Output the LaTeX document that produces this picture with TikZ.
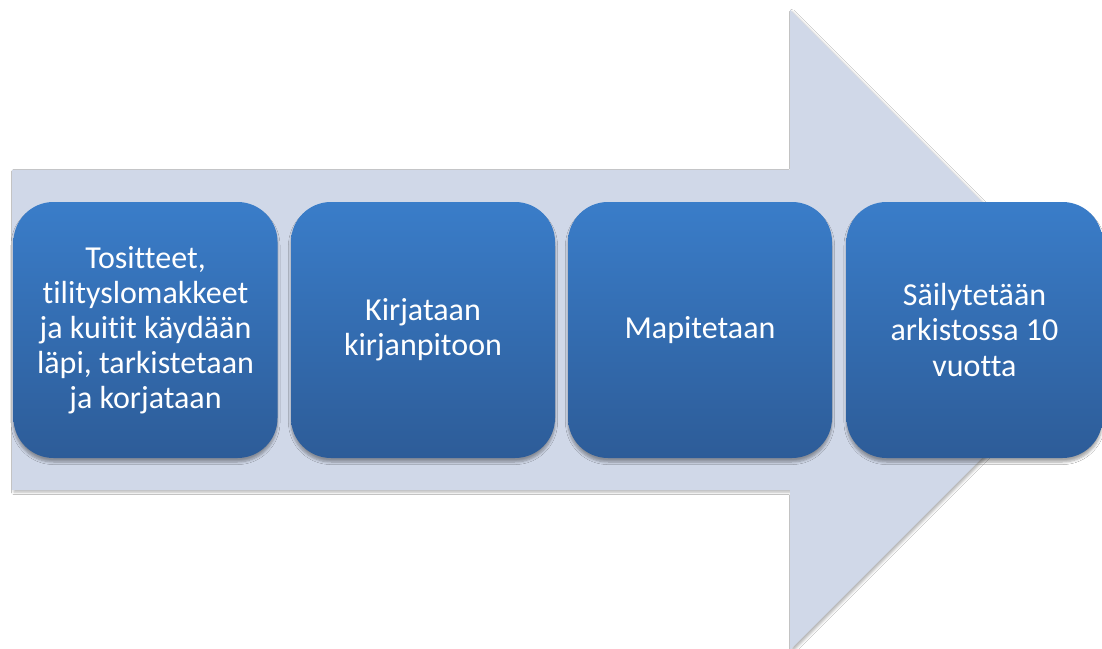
\documentclass[tikz,border=0pt]{standalone}
\usepackage{fontspec}
\setmainfont{Carlito}[RawFeature={-liga}]
\usepackage{xcolor}
\usepackage{tikz}
\usetikzlibrary{shadows.blur}

\definecolor{arrowgray}{HTML}{D0D8E8}
\definecolor{boxtop}{HTML}{3A7DC9}
\definecolor{boxbottom}{HTML}{2D5C98}

\begin{document}
\begin{tikzpicture}[x=0.75pt, y=-0.75pt,
    phasebox/.style={rectangle, rounded corners=30pt, top color=boxtop, bottom color=boxbottom,
        minimum width=198pt, minimum height=192pt, text width=185pt, align=flush center,
        text=white, font=\fontsize{24}{26.3}\selectfont, inner sep=0pt,
        blur shadow={shadow xshift=0pt, shadow yshift=-3pt, shadow blur steps=6, shadow opacity=35}}]

    % Page
    \clip (0,0) rectangle (1102,649);
    \fill[white] (0,0) rectangle (1102,649);

    % Arrow
    \fill[arrowgray, blur shadow={shadow xshift=1.5pt, shadow yshift=-1.5pt, shadow blur steps=4, shadow opacity=30}]
        (12,170) -- (790,170) -- (790,10) -- (1110,330) -- (790,650) -- (790,490) -- (12,490) -- cycle;

    % Steps
    \node[phasebox] (tositteet) at (145.5,330) {Tositteet,\\ tilityslomakkeet\\ ja kuitit käydään\\ läpi, tarkistetaan\\ ja korjataan};
    \node[phasebox] (kirjataan) at (423,330) {Kirjataan\\ kirjanpitoon};
    \node[phasebox] (mapitetaan) at (700,330) {Mapitetaan};
    \node[phasebox, minimum width=192pt] (arkisto) at (974.5,330) {Säilytetään\\ arkistossa 10\\ vuotta};

\end{tikzpicture}
\end{document}
